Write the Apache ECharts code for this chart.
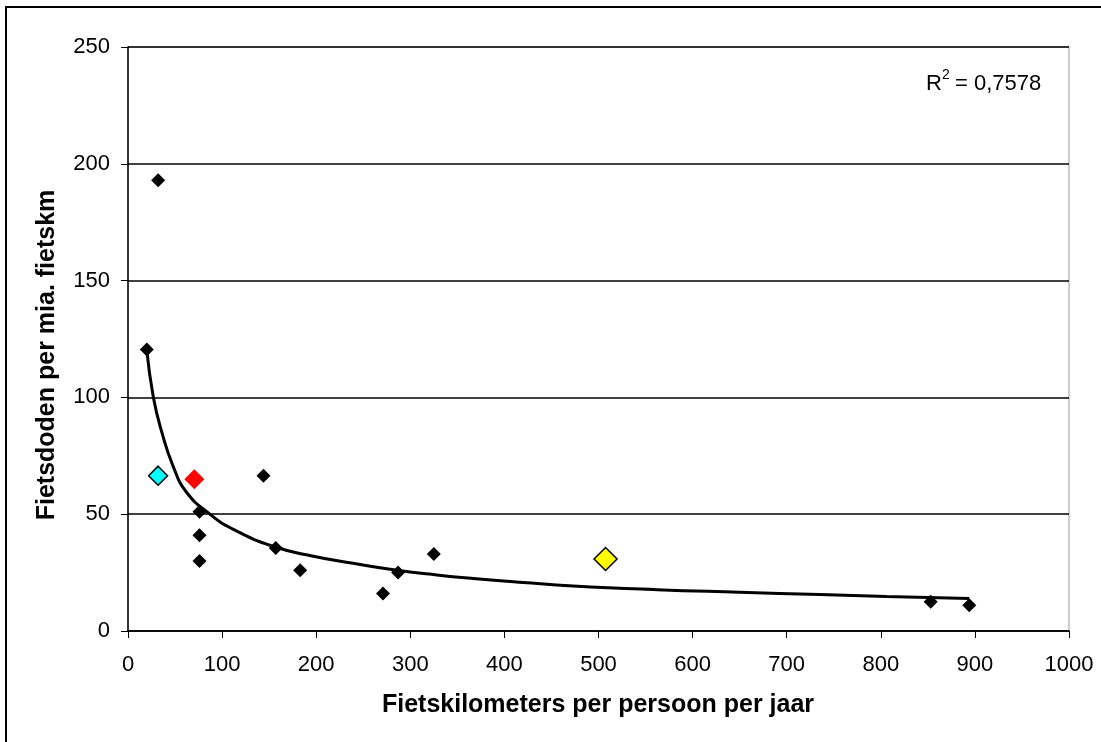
<!DOCTYPE html>
<html>
<head>
<meta charset="utf-8">
<script src="https://cdn.jsdelivr.net/npm/echarts@6/dist/echarts.min.js"></script>
<style>
    html, body { margin: 0; padding: 0; background: #fff; }
    #chart { width: 1101px; height: 742px; }
</style>
</head>
<body>
<div id="chart"></div>
<script>
// landen: fietskm per persoon per jaar / fietsdoden per mia. fietskm
var blackX = [20, 32, 76, 76, 76, 144, 157, 183, 271, 287, 325, 853, 894];
var blackY = [120.5, 193, 51, 41, 30, 66.5, 35.5, 26, 16, 25, 33, 12.5, 11];
var cyanPoint = [32, 66.5];
var redPoint = [70.5, 65];
var yellowPoint = [507.5, 30.8];

var trendX = [20, 27, 36, 48, 62, 87, 112, 154, 197, 239, 286, 328, 367, 420, 473, 562, 650, 735, 806, 894];
var trendY = [120, 100, 85, 70.5, 59.5, 50, 43.5, 36.3, 32, 29, 26, 24, 22.5, 20.8, 19.3, 17.7, 16.6, 15.6, 14.8, 13.9];

var xTicks = [0, 100, 200, 300, 400, 500, 600, 700, 800, 900, 1000];
var yTicks = [0, 50, 100, 150, 200, 250];

var xTitle = "Fietskilometers per persoon per jaar";
var yTitle = "Fietsdoden per mia. fietskm";

(function () {
    var myChart = echarts.init(document.getElementById("chart"));
    var pairs = function (xs, ys) {
        var out = [];
        for (var i = 0; i < xs.length; i++) out.push([xs[i], ys[i]]);
        return out;
    };
    var font = "Liberation Sans, Arial, sans-serif";
    var option = {
        animation: false,
        backgroundColor: "#fff",
        graphic: [{
            type: "rect",
            shape: { x: 6, y: 7, width: 1200, height: 800 },
            style: { fill: "none", stroke: "#000", lineWidth: 2 },
            silent: true
        }, {
            // asnamen
            type: "text",
            x: 598, y: 705,
            style: {
                text: xTitle, font: "bold 25px " + font, fill: "#000",
                align: "center", verticalAlign: "middle"
            }
        }, {
            type: "text",
            x: 47, y: 355,
            rotation: Math.PI / 2,
            style: {
                text: yTitle, font: "bold 25px " + font, fill: "#000",
                align: "center", verticalAlign: "middle"
            }
        }, {
            // R kwadraat
            type: "text",
            x: 926, y: 84,
            style: { text: "R", font: "22px " + font, fill: "#000", verticalAlign: "middle" }
        }, {
            type: "text",
            x: 942, y: 75,
            style: { text: "2", font: "14px " + font, fill: "#000", verticalAlign: "middle" }
        }, {
            type: "text",
            x: 955, y: 84,
            style: { text: "= 0,7578", font: "22px " + font, fill: "#000", verticalAlign: "middle" }
        }],
        grid: {
            left: 128, top: 47, width: 941, height: 584,
            show: true, borderColor: "#999", borderWidth: 1
        },
        xAxis: {
            type: "value",
            min: 0, max: 1000, interval: 100,
            axisLine: { onZero: false, lineStyle: { color: "#000", width: 1.5 } },
            axisTick: { show: true, inside: false, length: 7, lineStyle: { color: "#000" } },
            axisLabel: {
                fontFamily: font, fontSize: 22, color: "#000", margin: 23,
                formatter: function (v) { return String(v); }
            },
            splitLine: { show: false }
        },
        yAxis: {
            type: "value",
            min: 0, max: 250, interval: 50,
            axisLine: { show: true, lineStyle: { color: "#000", width: 1.5 } },
            axisTick: { show: true, inside: false, length: 7, lineStyle: { color: "#000" } },
            axisLabel: { fontFamily: font, fontSize: 22, color: "#000", margin: 18 },
            splitLine: { show: true, lineStyle: { color: "#000", width: 1.5 } }
        },
        series: [{
            name: "trend",
            type: "line",
            data: pairs(trendX, trendY),
            smooth: true,
            showSymbol: false,
            symbol: "none",
            lineStyle: { color: "#000", width: 3 },
            z: 2
        }, {
            name: "landen",
            type: "scatter",
            data: pairs(blackX, blackY),
            symbol: "diamond",
            symbolSize: [14, 14],
            itemStyle: { color: "#000", opacity: 1 },
            z: 3
        }, {
            name: "cyaan",
            type: "scatter",
            data: [cyanPoint],
            symbol: "diamond",
            symbolSize: [19, 19],
            itemStyle: { color: "#00ffff", borderColor: "#000", borderWidth: 1.5, opacity: 1 },
            z: 3
        }, {
            name: "rood",
            type: "scatter",
            data: [redPoint],
            symbol: "diamond",
            symbolSize: [20, 20],
            itemStyle: { color: "#ff0000", opacity: 1 },
            z: 3
        }, {
            name: "geel",
            type: "scatter",
            data: [yellowPoint],
            symbol: "diamond",
            symbolSize: [23, 23],
            itemStyle: { color: "#ffff00", borderColor: "#000", borderWidth: 1.5, opacity: 1 },
            z: 3
        }]
    };
    myChart.setOption(option);
    window.addEventListener("resize", function () {
        myChart.resize();
    });
})();
</script>
</body>
</html>
